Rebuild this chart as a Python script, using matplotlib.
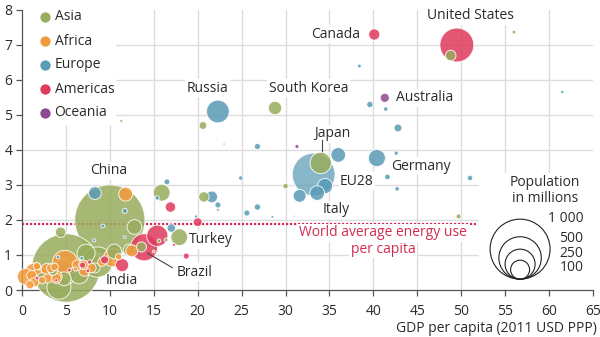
import numpy as np
import pandas as pd
import matplotlib
matplotlib.use("Agg")
import matplotlib.pyplot as plt
from matplotlib.patches import Rectangle
from matplotlib.transforms import offset_copy
from matplotlib.colors import to_rgba

plt.rcParams['font.family'] = ['Open Sans', 'DejaVu Sans']

# ---------------- data (GDP per capita k$, energy toe/cap, population M) ----------------
asia_gdp = [10.0, 5.0, 8.6, 4.6, 4.2, 34.0, 6.5, 7.3, 15.9, 17.9, 12.8, 4.8, 28.8, 10.5,
            20.7, 4.4, 48.8, 2.3, 12.2, 20.6, 13.6, 3.5, 30.0, 49.7, 11.3, 56.0, 15.6, 16.4, 8.3]
asia_energy = [2.00, 0.63, 0.80, 0.48, 0.08, 3.63, 0.45, 1.05, 2.78, 1.51, 1.80, 0.32, 5.20, 1.10,
               2.66, 1.65, 6.70, 0.35, 1.14, 4.70, 1.23, 0.55, 2.97, 2.10, 4.83, 7.37, 1.40, 1.43, 0.63]
asia_pop = [1370, 1300, 255, 190, 160, 127, 100, 91, 79, 78, 60, 53, 50, 60,
            30, 30, 31, 28, 40, 17, 28, 24, 8, 7, 2.5, 4, 4, 4, 28]

africa_gdp = [4.9, 1.4, 10.3, 0.4, 11.8, 2.5, 2.9, 12.5, 3.9, 1.7, 7.1, 3.9, 1.1, 7.0,
              1.4, 2.9, 3.3, 0.9, 3.7, 2.3, 1.7, 11.0, 6.1, 15.0, 9.1, 6.3, 7.9]
africa_energy = [0.77, 0.50, 0.92, 0.38, 2.74, 0.45, 0.58, 1.12, 0.38, 0.42, 0.55, 0.33, 0.42, 0.72,
                 0.22, 0.33, 0.62, 0.15, 0.66, 0.28, 0.68, 0.95, 0.60, 1.10, 0.80, 0.71, 0.63]
africa_pop = [180, 97, 90, 75, 54, 52, 46, 40, 38, 39, 34, 27, 27, 25,
              24, 23, 22, 19, 16, 15, 15, 11, 5, 2, 20, 30, 25]

americas_gdp = [49.5, 13.9, 15.4, 11.4, 20.0, 40.1, 9.4, 16.9, 18.7, 6.9, 5.4, 1.7, 17.3, 7.5, 3.9, 7.7]
americas_energy = [7.00, 1.22, 1.55, 0.71, 1.94, 7.30, 0.86, 2.37, 0.97, 0.71, 0.57, 0.34, 1.29, 0.55, 0.28, 0.80]
americas_pop = [320, 204, 125, 48, 22, 35, 18, 30, 10, 10, 4, 4, 2.5, 4, 3, 5]

europe_gdp = [33.2, 22.3, 40.4, 36.0, 34.5, 33.6, 31.6, 8.3, 21.6, 17.0, 42.8, 39.6, 26.8, 26.8,
              25.6, 22.3, 42.6, 16.5, 41.6, 51.0, 11.7, 15.4, 42.7, 41.4, 24.9, 61.5, 38.4, 9.2,
              4.1, 6.8, 8.2, 11.7, 19.8, 28.5, 23.0, 22.3, 28.0, 31.0]
europe_energy = [3.30, 5.10, 3.77, 3.86, 2.97, 2.77, 2.69, 2.77, 2.66, 1.77, 4.63, 5.30, 2.37, 4.10,
                 2.20, 2.43, 3.91, 3.09, 3.23, 3.20, 2.26, 2.63, 2.89, 5.17, 3.20, 5.66, 6.40, 1.83,
                 0.94, 0.91, 1.42, 1.51, 2.10, 2.09, 4.17, 2.29, 3.50, 2.11]
europe_pop = [508, 144, 81, 60, 64, 60, 46, 45, 38, 20, 17, 11, 11, 10.5,
              10, 10, 5, 9.5, 8.5, 8, 7, 5, 5.6, 5.5, 5.4, 3, 4, 3.8,
              3.5, 3.7, 2.9, 2.1, 2.9, 2.1, 1.3, 2, 0.4, 0.9]

oceania_gdp = [41.3, 31.3]
oceania_energy = [5.49, 4.10]
oceania_pop = [23, 4.5]

regions = ['Asia', 'Africa', 'Europe', 'Americas', 'Oceania']
region_colors = {'Asia': '#99AD5E', 'Africa': '#F39A3E', 'Europe': '#5A9BB6',
                 'Americas': '#DF3A5D', 'Oceania': '#8D4A92'}

labels = ['United States', 'Canada', 'Russia', 'South Korea', 'Australia', 'Japan', 'EU28',
          'Italy', 'Germany', 'China', 'India', 'Turkey', 'Brazil']
label_x = [51.1, 35.7, 21.1, 32.6, 42.6, 35.3, 36.2, 35.8, 42.0, 9.9, 11.3, 19.0, 17.55]
label_y = [7.83, 7.31, 5.77, 5.77, 5.49, 4.46, 3.11, 2.29, 3.54, 3.40, 0.26, 1.43, 0.51]
label_ha = ['center', 'center', 'center', 'center', 'left', 'center', 'left',
            'center', 'left', 'center', 'center', 'left', 'left']

world_avg = 1.9
size_legend_pops = [1000, 500, 250, 100]
size_legend_text = ['1 000', '500', '250', '100']
size_legend_y = [2.03, 1.46, 1.03, 0.63]

xticks = list(range(0, 70, 5))
yticks = list(range(0, 9))

# ---------------- build frame ----------------
frames = []
for reg, gx, ey, pp in [('Asia', asia_gdp, asia_energy, asia_pop),
                        ('Africa', africa_gdp, africa_energy, africa_pop),
                        ('Americas', americas_gdp, americas_energy, americas_pop),
                        ('Europe', europe_gdp, europe_energy, europe_pop),
                        ('Oceania', oceania_gdp, oceania_energy, oceania_pop)]:
    frames.append(pd.DataFrame({'gdp': gx, 'energy': ey, 'pop': pp, 'region': reg}))
df = pd.concat(frames, ignore_index=True).sort_values('pop', ascending=False)

K = 21.6  # radius in points for 1000 million


def size_of(p):
    return (2 * K * np.sqrt(np.asarray(p, dtype=float) / 1000.0)) ** 2


fig = plt.figure(figsize=(6, 3.37), dpi=100)
ax = fig.add_axes([22 / 600, 1 - 290 / 337, 571 / 600, 280 / 337])
ax.set_xlim(0, 65)
ax.set_ylim(0, 8)

grid_c = '#dddddd'
for xv in xticks[1:-1]:
    ax.axvline(xv, color=grid_c, lw=1.0, zorder=0)
for yv in yticks[1:-1]:
    ax.axhline(yv, color=grid_c, lw=1.0, zorder=0)

# white boxes (legend areas)
ax.add_patch(Rectangle((0.05, 4.72), 10.6, 3.28, fc='white', ec='none', zorder=0.5))
ax.add_patch(Rectangle((52.0, 0.03), 13.0, 3.32, fc='white', ec='none', zorder=0.5))

# world average line
crimson = '#D42B52'
ax.plot([0, 51.7], [world_avg, world_avg], color=crimson, lw=1.6,
        linestyle=(0, (1, 0.8)), zorder=2)
tb = dict(boxstyle='square,pad=0.12', fc='white', ec='none')
ax.text(41.1, 1.63, 'World average energy use', color=crimson, fontsize=10,
        ha='center', va='center', zorder=2.5, bbox=tb)
ax.text(41.1, 1.17, 'per capita', color=crimson, fontsize=10,
        ha='center', va='center', zorder=2.5, bbox=tb)

# bubbles
cols = []
for _, r in df.iterrows():
    a = 0.72 if r['pop'] > 500 and r['region'] == 'Europe' else 0.86
    cols.append(to_rgba(region_colors[r['region']], a))
ax.scatter(df['gdp'], df['energy'], s=size_of(df['pop']), c=cols,
           edgecolors=(1, 1, 1, 0.85), linewidths=0.7, zorder=3, clip_on=False)

# country labels
txt_c = '#2b2b2b'
for t, x, y, ha in zip(labels, label_x, label_y, label_ha):
    ax.text(x, y, t, fontsize=10, color=txt_c, ha=ha, va='center', zorder=2.6,
            bbox=dict(boxstyle='square,pad=0.1', fc='white', ec='none'))
ax.plot([34.1, 34.1], [4.28, 3.92], color='#444444', lw=0.8, zorder=2.6)
ax.plot([17.1, 14.3], [0.64, 1.05], color='#444444', lw=0.8, zorder=4)

# region legend
leg_y = [7.80, 7.11, 6.43, 5.74, 5.06]
for reg, ly in zip(regions, leg_y):
    ax.scatter([2.6], [ly], s=55, color=region_colors[reg], zorder=5, lw=0)
    ax.text(3.7, ly, reg, fontsize=10, color=txt_c, ha='left', va='center', zorder=5)

# size legend
ax.text(59.5, 2.83, 'Population\nin millions', fontsize=10, color=txt_c, ha='center',
        va='center', linespacing=1.1, zorder=5)
for p in size_legend_pops:
    r_pt = K * np.sqrt(p / 1000.0)
    tr = offset_copy(ax.transData, fig=fig, x=0, y=r_pt, units='points')
    ax.scatter([56.7], [0.31], s=size_of(p), facecolors='none', edgecolors='#222222',
               linewidths=0.8, transform=tr, zorder=5, clip_on=False)
for t, y in zip(size_legend_text, size_legend_y):
    ax.text(63.9, y, t, fontsize=10, color=txt_c, ha='right', va='center', zorder=5)

# axes styling
for s in ['top', 'right']:
    ax.spines[s].set_visible(False)
for s in ['left', 'bottom']:
    ax.spines[s].set_color('#555555')
    ax.spines[s].set_linewidth(0.9)
ax.set_xticks(xticks)
ax.set_yticks(yticks)
ax.tick_params(direction='out', length=4, width=0.9, color='#555555',
               labelsize=10, labelcolor=txt_c)
ax.tick_params(axis='x', pad=6)
ax.tick_params(axis='y', pad=3)
fig.text(0.995, 1 - 329 / 337, 'GDP per capita (2011 USD PPP)', fontsize=10,
         color=txt_c, ha='right', va='center')

fig.savefig('out.png', dpi=100)
